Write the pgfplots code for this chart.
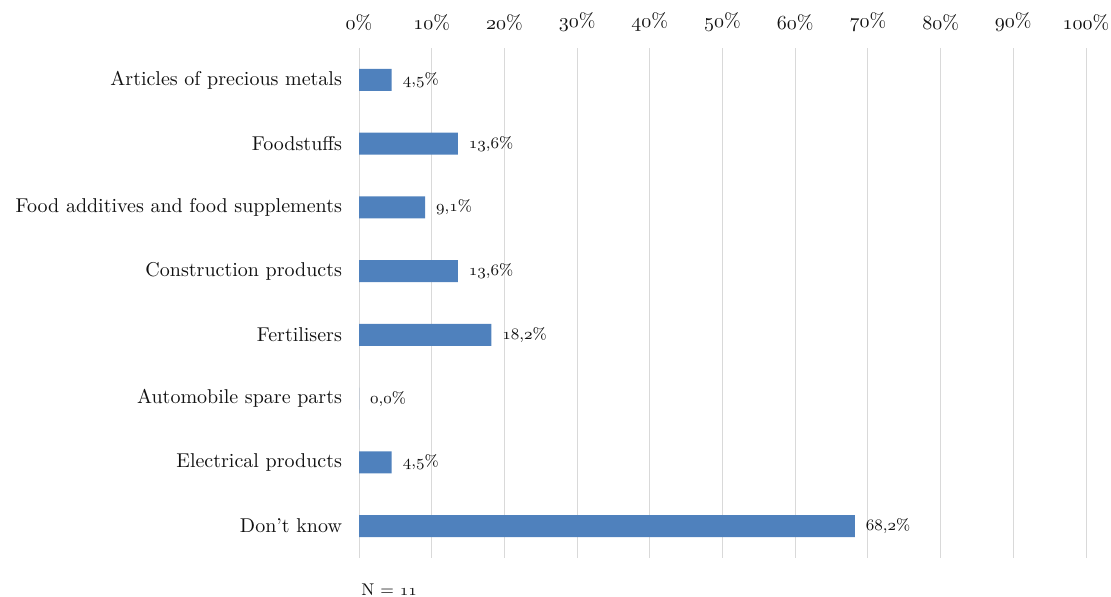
\documentclass[border=0pt]{standalone}
\usepackage{pgfplots}
\pgfplotsset{compat=1.18}
\definecolor{barblue}{HTML}{4F81BD}
\definecolor{gridc}{HTML}{D9D9D9}
\definecolor{txt}{HTML}{111111}
\newcommand{\os}[1]{$\mathnormal{#1}$}
\begin{document}
\begin{tikzpicture}
\path[use as bounding box] (0,0) rectangle (555.5pt,298.5pt);
\begin{axis}[
  at={(179.5pt,19.5pt)}, anchor=south west,
  width=363.5pt, height=255pt, scale only axis,
  xbar, bar width=11pt,
  xmin=0, xmax=100,
  ymin=-0.5, ymax=7.5,
  ytick={0,...,7},
  yticklabels={Don't know, Electrical products, Automobile spare parts, Fertilisers, Construction products, Food additives and food supplements, Foodstuffs, Articles of precious metals},
  xtick={0,10,...,100},
  xticklabels={\os{0}\%,\os{10}\%,\os{20}\%,\os{30}\%,\os{40}\%,\os{50}\%,\os{60}\%,\os{70}\%,\os{80}\%,\os{90}\%,\os{100}\%},
  xticklabel pos=upper,
  axis line style={draw=none},
  major tick length=0pt,
  xmajorgrids, grid style={gridc, line width=0.5pt},
  tick label style={font=\fontsize{10}{12}\selectfont, text=txt},
  xticklabel style={yshift=5pt},
  yticklabel style={xshift=-5pt},
  clip=false,
]
\addplot[fill=barblue, draw=none,
  nodes near coords={\os{\pgfmathprintnumber[use comma,fixed,fixed zerofill,precision=1]{\pgfplotspointmeta}}\%},
  nodes near coords style={font=\fontsize{8}{10}\selectfont, text=txt, anchor=west, xshift=2pt},
  point meta=explicit]
  coordinates {(68.2,0) [68.2] (4.5,1) [4.5] (0,2) [0] (18.2,3) [18.2] (13.6,4) [13.6] (9.1,5) [9.1] (13.6,6) [13.6] (4.5,7) [4.5]};
\node[anchor=west, inner sep=0pt, font=\fontsize{8.5}{10}\selectfont, text=txt] at (rel axis cs:0,0) [xshift=1pt, yshift=-16pt] {N = \os{11}};
\end{axis}
\end{tikzpicture}
\end{document}
